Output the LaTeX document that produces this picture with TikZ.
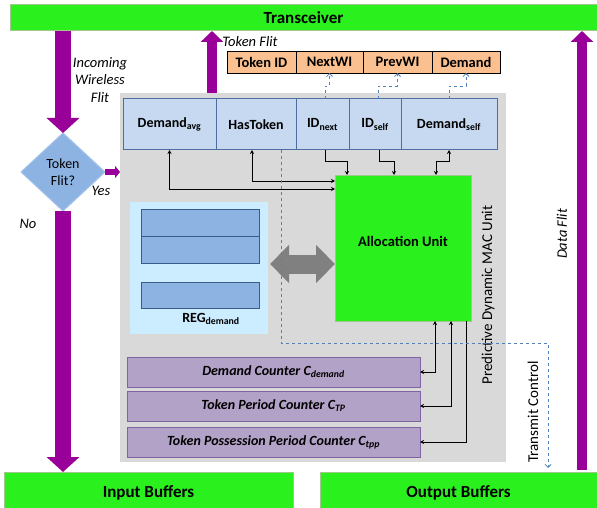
\documentclass[tikz,border=0pt]{standalone}
\usepackage{fontspec}
\setmainfont{Carlito}
\usetikzlibrary{arrows.meta}
\usetikzlibrary{shapes.geometric}
\usetikzlibrary{positioning}
\usetikzlibrary{calc}

\definecolor{macgreen}{RGB}{42,240,30}
\definecolor{barline}{RGB}{160,200,140}
\definecolor{macpurple}{RGB}{153,0,153}
\definecolor{macgray}{RGB}{217,217,217}
\definecolor{regfill}{RGB}{198,217,241}
\definecolor{regline}{RGB}{79,110,160}
\definecolor{fldfill}{RGB}{250,192,144}
\definecolor{diafill}{RGB}{141,179,226}
\definecolor{dialine}{RGB}{165,195,235}
\definecolor{regpanel}{RGB}{204,236,255}
\definecolor{boxline}{RGB}{56,93,138}
\definecolor{cntfill}{RGB}{179,162,199}
\definecolor{cntline}{RGB}{128,100,162}
\definecolor{ctrlblue}{RGB}{79,129,189}
\definecolor{bigarrow}{RGB}{128,128,128}

\begin{document}
\begin{tikzpicture}[x=1pt,y=-1pt,node distance=0pt,
        every node/.style={inner sep=0pt,outer sep=0pt},
        >={Stealth[length=4pt,width=4pt]},
        bar/.style={draw=barline,fill=macgreen,line width=1pt,font=\fontsize{17}{20}\selectfont\bfseries},
        reg/.style={draw=regline,fill=regfill,line width=1pt,minimum height=51pt,font=\fontsize{14}{16}\selectfont\bfseries},
        fld/.style={draw=black,fill=fldfill,line width=0.8pt,minimum height=22pt,font=\fontsize{14.5}{16}\selectfont\bfseries},
        regbox/.style={draw=boxline,fill=diafill,line width=1pt,minimum width=118pt,minimum height=27pt},
        cnt/.style={draw=cntline,fill=cntfill,line width=1pt,minimum width=293pt,minimum height=30pt,font=\fontsize{14}{16}\selectfont\bfseries\itshape},
        lbl/.style={font=\fontsize{14.5}{17.5}\selectfont\itshape},
        plain/.style={font=\fontsize{15}{17}\selectfont},
        link/.style={draw=black,line width=1pt},
        ctrl/.style={draw=ctrlblue,dashed,line width=0.8pt,-{Straight Barb[length=3pt,width=6pt]}},
        fat/.style={draw=macpurple,line width=16pt,-{Triangle[length=15pt,width=32pt]}},
        thin/.style={draw=macpurple,line width=10pt,-{Triangle[length=11pt,width=22pt]}},
        tiny/.style={draw=macpurple,line width=6pt,-{Triangle[length=5pt,width=12pt]}},
        swap/.style={draw=bigarrow,line width=19pt,{Triangle[length=19pt,width=37pt]}-{Triangle[length=19pt,width=37pt]}}]
        \useasboundingbox (0,0) rectangle (597,508);

        \node [bar,minimum width=587pt,minimum height=26pt,anchor=north west] (trx) at (10,5) {Transceiver};
        \node [bar,minimum width=289pt,minimum height=42pt,anchor=north west] (inb) at (4,472) {Input Buffers};
        \node [bar,minimum width=277pt,minimum height=42pt,anchor=north west] (outb) at (320,472) {Output Buffers};

        \node [fill=macgray,minimum width=386pt,minimum height=369pt,anchor=north west] (mac) at (120,93) {};

        \node [reg,minimum width=93pt,anchor=north west] (davg) at (123,99) {Demand\textsubscript{avg}};
        \node [reg,minimum width=80pt] (htok) [right=of davg] {HasToken};
        \node [reg,minimum width=53pt] (idn) [right=of htok] {ID\textsubscript{next}};
        \node [reg,minimum width=52pt] (ids) [right=of idn] {ID\textsubscript{self}};
        \node [reg,minimum width=96pt] (dself) [right=of ids] {Demand\textsubscript{self}};

        \node [fld,minimum width=69pt,anchor=north west] (tid) at (227,51) {Token ID};
        \node [fld,minimum width=67pt] (nwi) [right=of tid] {NextWI};
        \node [fld,minimum width=69pt] (pwi) [right=of nwi] {PrevWI};
        \node [fld,minimum width=68pt] (dem) [right=of pwi] {Demand};

        \node [draw=barline,fill=macgreen,line width=1pt,minimum width=136pt,minimum height=146pt,anchor=north west,
            label={[font=\fontsize{14.5}{17}\selectfont\bfseries,yshift=7pt]center:Allocation Unit}] (alloc) at (335,175) {};

        \node [fill=regpanel,minimum width=138pt,minimum height=132pt,anchor=north west] (reg) at (130,202) {};
        \node [regbox,anchor=north west] (r1) at (141,209) {};
        \node [regbox] (r2) [below=of r1] {};
        \node [regbox,minimum height=26pt] (r3) [below=19pt of r2] {};
        \node [font=\fontsize{14}{16}\selectfont\bfseries] (reglbl) [below=5pt of r3,xshift=11pt] {REG\textsubscript{demand}};

        \node [cnt,anchor=north west] (c1) at (127,357) {Demand Counter C\textsubscript{demand}};
        \node [cnt] (c2) [below=4pt of c1] {Token Period Counter C\textsubscript{TP}};
        \node [cnt] (c3) [below=6pt of c2] {Token Possession Period Counter C\textsubscript{tpp}};

        \node [diamond,draw=dialine,fill=diafill,line width=1pt,minimum width=84pt,minimum height=78pt,
            align=center,font=\fontsize{14}{17}\selectfont] (dia) at (63,172) {Token\\Flit?};

        \node [lbl,align=center] (inc) at (100,80) {Incoming\\Wireless\\Flit};
        \node [lbl] (yes) at (101,191) {Yes};
        \node [lbl] (no) at (28,224) {No};
        \node [lbl] (tflit) at (250,42) {Token Flit};
        \node [lbl,rotate=90] (dflit) at (562,234) {Data Flit};
        \node [plain,rotate=90] (pdmu) at (488,295) {Predictive Dynamic MAC Unit};
        \node [plain,rotate=90] (tctl) at (533,412) {Transmit Control};

        \coordinate (tfl) at ([xshift=92pt]mac.north west);
        \coordinate (dfl) at (582,470);
        \coordinate (tcbend) at (548,343);

        \draw [fat] (dia.north |- trx.south) -- (dia.north);
        \draw [fat] (dia.south) -- (dia.south |- inb.north);
        \draw [thin] (tfl) -- (tfl |- trx.south);
        \draw [thin] (dfl) -- (dfl |- trx.south);
        \draw [tiny] (dia.east) -- (dia.east -| mac.west);
        \draw [swap] ($(reg.east)+(2,-4)$) -- ($(reg.east -| alloc.west)+(0,-4)$);

        \draw [link,<->] (davg.south) |- ([yshift=-14pt]alloc.north west);
        \draw [link,<->] ([xshift=-4pt]htok.south) |- ([yshift=-6pt]alloc.north west);
        \draw [link,->] ([xshift=2.5pt]idn.south) -- ++(0,12) -| ([xshift=12pt]alloc.north west);
        \draw [link,->] ([xshift=4pt]ids.south) -- ++(0,12) -| ([xshift=59pt]alloc.north west);
        \draw [link,<->] ([xshift=101pt]alloc.north west) -- ++(0,-13) -| (dself.south);
        \draw [link,<->] ([xshift=100pt]alloc.south west) |- (c1.east);
        \draw [link,<->] ([xshift=116pt]alloc.south west) |- (c2.east);
        \draw [link,->] ([xshift=131pt]alloc.south west) |- (c3.east);

        \draw [ctrl] ([xshift=2.5pt]idn.north) -- ++(0,-13) -| (nwi.south);
        \draw [ctrl] ([xshift=3pt]ids.north) -- ++(0,-13) -| (pwi.south);
        \draw [ctrl] (dself.north) -- ++(0,-13) -| (dem.south);
        \draw [ctrl] ([xshift=25pt]htok.south) |- (tcbend) -- ($(tcbend |- outb.north)+(0,-4)$);
\end{tikzpicture}
\end{document}
